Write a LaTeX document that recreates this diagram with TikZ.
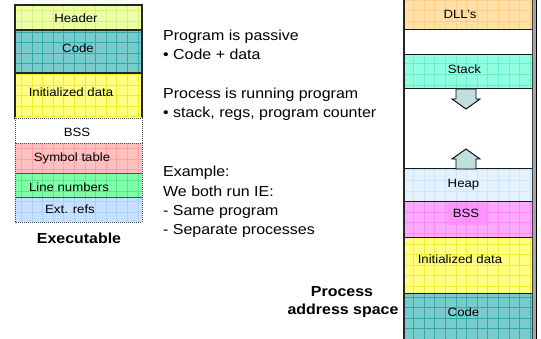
\documentclass[tikz,border=0pt]{standalone}
\usepackage{fontspec}
\setmainfont{Liberation Sans}[FakeStretch=1.1]
\definecolor{hdr}{RGB}{236,255,168}\definecolor{hdrg}{RGB}{214,240,120}
\definecolor{codec}{RGB}{122,204,204}\definecolor{codeg}{RGB}{50,170,170}
\definecolor{idata}{RGB}{255,255,128}\definecolor{idatag}{RGB}{236,236,50}
\definecolor{sym}{RGB}{255,192,192}\definecolor{symg}{RGB}{255,162,162}
\definecolor{lnum}{RGB}{128,255,168}\definecolor{lnumg}{RGB}{88,230,136}
\definecolor{ext}{RGB}{200,224,255}\definecolor{extg}{RGB}{172,208,250}
\definecolor{dll}{RGB}{255,224,168}\definecolor{dllg}{RGB}{255,206,134}
\definecolor{stk}{RGB}{144,255,224}\definecolor{stkg}{RGB}{104,240,204}
\definecolor{heap}{RGB}{228,242,255}\definecolor{heapg}{RGB}{204,230,250}
\definecolor{bssr}{RGB}{255,168,255}\definecolor{bssrg}{RGB}{255,134,255}
\definecolor{bssin}{RGB}{255,140,255}
\definecolor{arrf}{RGB}{190,222,224}
\newcommand\gridbox[6]{%
  \begin{scope}
    \clip (#1,#2) rectangle (#3,#4);
    \fill[#5] (#1,#2) rectangle (#3,#4);
    \draw[#6, line width=0.4pt, step=10.6pt] (#1,#2) grid (#3,#4);
  \end{scope}}
\tikzset{
  lbl/.style={font=\fontsize{12}{14}\selectfont, inner sep=0pt, anchor=base},
  body/.style={font=\fontsize{14.5}{17}\selectfont, inner sep=0pt, anchor=base west},
  ttl/.style={font=\bfseries\fontsize{14.5}{17}\selectfont, inner sep=0pt, anchor=base},
  solidb/.style={draw=black!85, line width=1.2pt},
  dotb/.style={draw=black!70, line width=0.9pt, dash pattern=on 1pt off 1pt},
  colb/.style={draw=black!90, line width=1pt},
  blockarrow/.style={draw=black, line width=0.9pt, fill=arrf, line join=miter},
}
\begin{document}
\begin{tikzpicture}[x=1pt,y=-1pt]
\useasboundingbox (0,0) rectangle (541,339);
\clip (0,0) rectangle (541,339);
\fill[white] (0,0) rectangle (541,339);
% ---------- left column: executable ----------
\gridbox{15}{5}{142}{30}{hdr}{hdrg}
\gridbox{15}{30}{142}{73}{codec}{codeg}
\gridbox{15}{73}{142}{118}{idata}{idatag}
\gridbox{15}{143}{142}{173}{sym}{symg}
\gridbox{15}{173}{142}{197}{lnum}{lnumg}
\gridbox{15}{197}{142}{222}{ext}{extg}
\draw[solidb] (15,5) rectangle (142,30);
\draw[solidb] (15,30) rectangle (142,73);
\draw[solidb] (15,73) rectangle (142,118);
\draw[white, line width=1.3pt] (15,118) -- (142,118);
\draw[dotb] (15,118) rectangle (142,143);
\draw[dotb] (15,143) rectangle (142,173);
\draw[dotb] (15,173) rectangle (142,197);
\draw[dotb] (15,197) rectangle (142,222);
\node[lbl] (lhdr) at (76,22.5) {Header};
\node[lbl] (lcode) at (78,53) {Code};
\node[lbl] (ldata) at (71,97) {Initialized data};
\node[lbl] (lbss) at (77,136.5) {BSS};
\node[lbl] (lsym) at (72,161.5) {Symbol table};
\node[lbl] (lline) at (69,191.5) {Line numbers};
\node[lbl] (lext) at (70,214) {Ext. refs};
\node[ttl] (exe) at (79,243.5) {Executable};
% ---------- middle text ----------
\node[body] (t1) at (163,41) {Program is passive};
\node[body] (t2) at (163,60) {• Code + data};
\node[body] (t3) at (163,99) {Process is running program};
\node[body] (t4) at (163,118) {• stack, regs, program counter};
\node[body] (t5) at (163,177) {Example:};
\node[body] (t6) at (163,196.5) {We both run IE:};
\node[body] (t7) at (163,216) {- Same program};
\node[body] (t8) at (163,235) {- Separate processes};
% ---------- right column: process address space ----------
\fill[black!35] (532,-5) rectangle (536,345);
\draw[black, line width=1pt] (536.5,-5) -- (536.5,345);
\gridbox{404}{-5}{532}{30}{dll}{dllg}
\gridbox{404}{55}{532}{89}{stk}{stkg}
\gridbox{404}{169}{532}{202}{heap}{heapg}
\gridbox{404}{202}{532}{238}{bssr}{bssrg}
\fill[bssin, opacity=0.7] (447,203) rectangle (489,225);
\gridbox{404}{238}{532}{293}{idata}{idatag}
\gridbox{404}{293}{532}{345}{codec}{codeg}
\draw[colb] (404,-5) rectangle (532,30);
\draw[colb] (404,55) rectangle (532,89);
\draw[colb] (404,169) rectangle (532,202);
\draw[colb] (404,202) rectangle (532,238);
\draw[colb] (404,238) rectangle (532,293);
\draw[colb] (404,293) rectangle (532,345);
\draw[black!85, line width=1.2pt] (404,-5) -- (404,345);
\draw[black!75, line width=1pt] (532,-5) -- (532,345);
\draw[blockarrow] (456,89) -- (456,99) -- (452,99) -- (466,109) -- (480,99) -- (476,99) -- (476,89) -- cycle;
\draw[blockarrow] (456,169) -- (456,159) -- (452,159) -- (466,149) -- (480,159) -- (476,159) -- (476,169) -- cycle;
\node[lbl] (rdll) at (460,18.3) {DLL's};
\node[lbl] (rstk) at (464.5,73.3) {Stack};
\node[lbl] (rheap) at (463.5,188) {Heap};
\node[lbl] (rbss) at (466,218) {BSS};
\node[lbl] (rdata) at (460,264) {Initialized data};
\node[lbl] (rcode) at (463.5,316.7) {Code};
\node[ttl] (pas1) at (342,296.5) {Process};
\node[ttl] (pas2) at (343,314.5) {address space};
\end{tikzpicture}
\end{document}
